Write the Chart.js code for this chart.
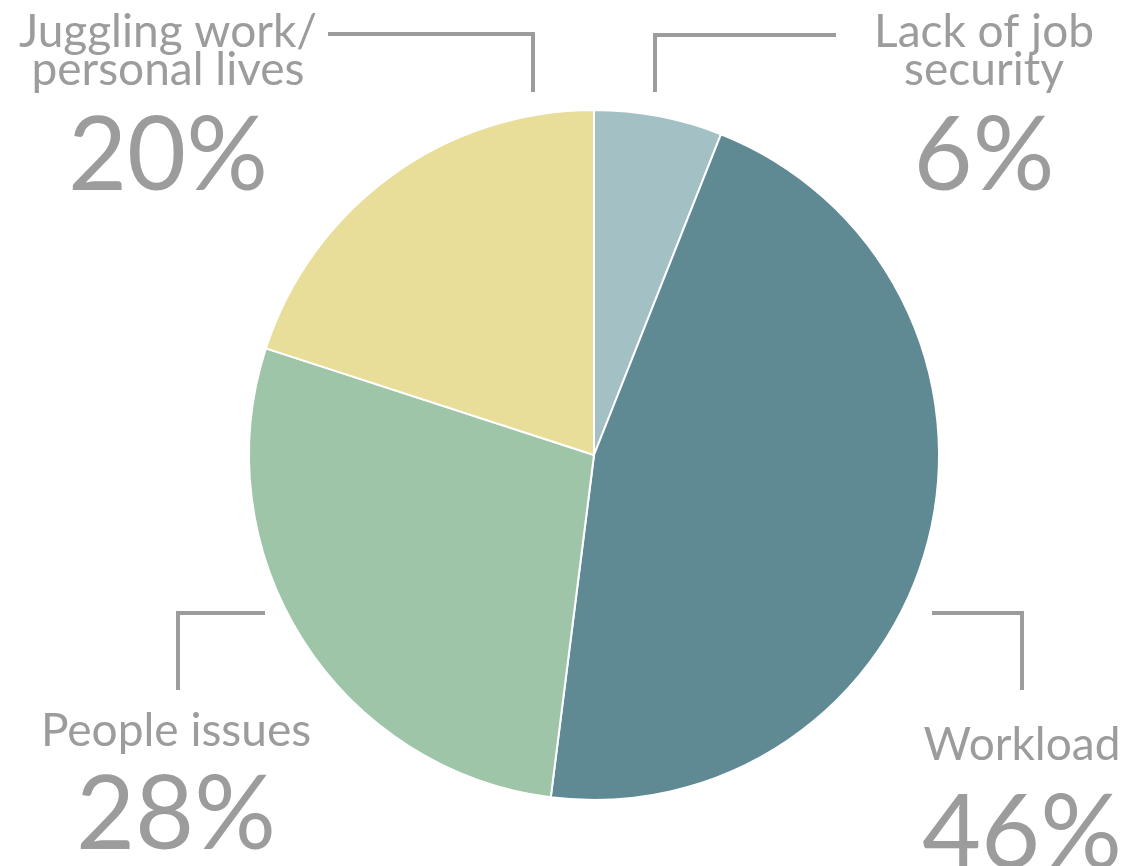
<!DOCTYPE html>
<html>
<head>
    <title>Sources of stress</title>
    <script src="https://cdn.jsdelivr.net/npm/chart.js@4.4.1/dist/chart.umd.min.js"></script>
    <style>
        html, body { margin: 0; padding: 0; background: #fff; }
        .wrap { width: 1133px; height: 866px; position: relative; }
    </style>
</head>
<body>
    <div class="wrap">
        <canvas id="pieChart" width="1133" height="866"></canvas>
    </div>

    <script>
        // data, clockwise from 12 o'clock
        const categories = ['Lack of job security', 'Workload', 'People issues', 'Juggling work/personal lives'];
        const shares = [6, 46, 28, 20];
        const labelLines = [
            ['Lack of job', 'security'],
            ['Workload'],
            ['People issues'],
            ['Juggling work/', 'personal lives']
        ];
        const sliceColors = ['#a3c0c4', '#5f8a94', '#9fc5a8', '#e8de9a'];

        const grey = '#9c9c9c';
        const fontFamily = 'Lato, "Open Sans", sans-serif';

        // callout layout: text centre x, baselines, connector path
        const callouts = [
            { x: 984, lines: [47, 85], pct: 190, path: [[655, 92], [655, 35], [836, 35]] },
            { x: 1022, lines: [760], pct: 868, path: [[932, 613], [1022, 613], [1022, 690]] },
            { x: 176, lines: [746], pct: 849, path: [[265, 613], [178, 613], [178, 690]] },
            { x: 168, lines: [47, 85], pct: 190, path: [[328, 34], [533, 34], [533, 92]] }
        ];

        const calloutPlugin = {
            id: 'callouts',
            afterDraw: function(chart) {
                const ctx = chart.ctx;
                ctx.save();
                ctx.strokeStyle = grey;
                ctx.fillStyle = grey;
                ctx.lineWidth = 4;
                ctx.textAlign = 'center';
                ctx.textBaseline = 'alphabetic';
                callouts.forEach(function(c, i) {
                    ctx.beginPath();
                    c.path.forEach(function(p, j) {
                        if (j === 0) ctx.moveTo(p[0], p[1]);
                        else ctx.lineTo(p[0], p[1]);
                    });
                    ctx.stroke();

                    ctx.font = '46px ' + fontFamily;
                    labelLines[i].forEach(function(line, k) {
                        ctx.fillText(line, c.x, c.lines[k]);
                    });
                    ctx.font = '102px ' + fontFamily;
                    ctx.fillText(shares[i] + '%', c.x, c.pct);
                });
                ctx.restore();
            }
        };

        const ctx = document.getElementById('pieChart').getContext('2d');
        new Chart(ctx, {
            type: 'pie',
            data: {
                labels: categories,
                datasets: [{
                    data: shares,
                    backgroundColor: sliceColors,
                    borderColor: '#ffffff',
                    borderWidth: 2
                }]
            },
            options: {
                responsive: false,
                animation: false,
                layout: {
                    padding: { left: 248, right: 193, top: 109, bottom: 65 }
                },
                plugins: {
                    legend: { display: false },
                    tooltip: { enabled: false }
                }
            },
            plugins: [calloutPlugin]
        });
    </script>
</body>
</html>
